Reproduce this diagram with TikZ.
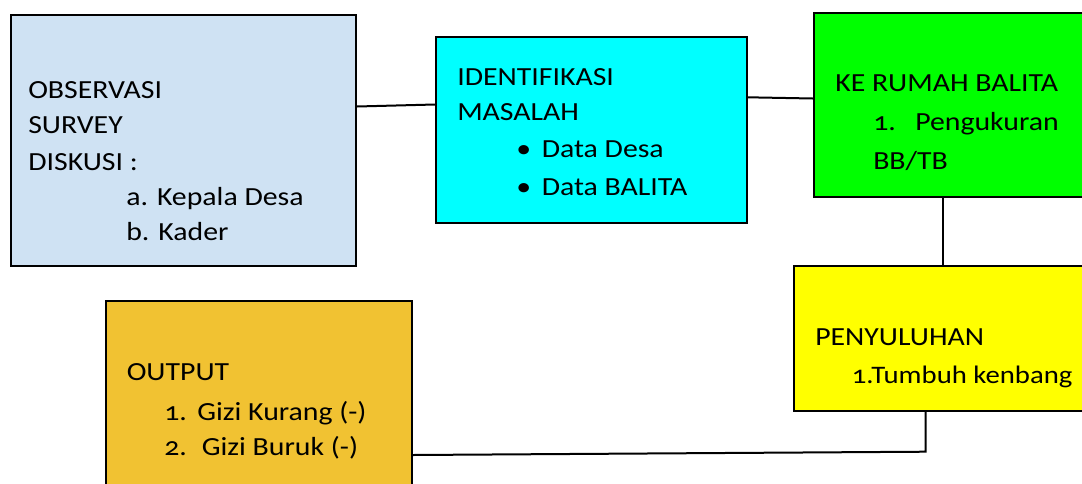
\documentclass[tikz,border=0pt]{standalone}
\usepackage{fontspec}
\setmainfont{Carlito}[FakeStretch=1.14,Numbers=OldStyle]
\usetikzlibrary{calc}
\definecolor{lblue}{RGB}{207,226,243}
\definecolor{cyanbox}{RGB}{0,255,255}
\definecolor{greenbox}{RGB}{0,255,0}
\definecolor{yellowbox}{RGB}{255,255,0}
\definecolor{goldbox}{RGB}{241,194,50}
\begin{document}
\begin{tikzpicture}[x=0.75pt,y=-0.75pt,
  box/.style={draw=black, line width=1.5pt, rectangle, inner sep=0pt, anchor=north west},
  txt/.style={anchor=base west, inner sep=0pt, font=\fontsize{19.6}{27}\selectfont},
  link/.style={draw=black, line width=1.5pt}]
\useasboundingbox (0,0) rectangle (1082,483);
\clip (0,0) rectangle (1082,483);
% boxes
\node[box, fill=lblue, minimum width=258.75pt, minimum height=188.25pt] (b1) at (10,14) {};
\node[box, fill=cyanbox, minimum width=233.25pt, minimum height=139.5pt] (b2) at (435,36) {};
\node[box, fill=greenbox, minimum width=225pt, minimum height=138pt] (b3) at (813,12) {};
\node[box, fill=yellowbox, minimum width=240pt, minimum height=108.75pt] (b4) at (793,265) {};
\node[box, fill=goldbox, minimum width=229.5pt, minimum height=150pt] (b5) at (105,300) {};
% texts box 1
\node[txt] (t11) at (28,98) {OBSERVASI};
\node[txt] (t12) at (28,133.5) {SURVEY};
\node[txt] (t13) at (28,170) {DISKUSI :};
\node[txt] (t14) at (126,205) {a. Kepala Desa};
\node[txt] (t15) at (126,240) {b. Kader};
% texts box 2
\node[txt] (t21) at (457,85) {IDENTIFIKASI};
\node[txt] (t22) at (457,120) {MASALAH};
\node[txt] (t23b) at (516,157) {•};
\node[txt] (t23) at (541.5,157) {Data Desa};
\node[txt] (t24b) at (516,195) {•};
\node[txt] (t24) at (541.5,195) {Data BALITA};
% texts box 3
\node[txt] (t31) at (835,91.5) {KE RUMAH BALITA};
\node[txt] (t32n) at (873,130) {1.};
\node[txt] (t32) at (915,130) {Pengukuran};
\node[txt] (t33) at (873,169) {BB/TB};
% texts box 4
\node[txt] (t41) at (815,345) {PENYULUHAN};
\node[txt, font=\fontsize{18.9}{27}\selectfont] (t42) at (851.5,383) {1.Tumbuh kenbang};
% texts box 5
\node[txt] (t51) at (126.5,380.5) {OUTPUT};
\node[txt] (t52n) at (164,420) {1.};
\node[txt] (t52) at (197,420) {Gizi Kurang (-)};
\node[txt] (t53n) at (164,455) {2.};
\node[txt] (t53) at (201.5,455) {Gizi Buruk (-)};
% connectors
\draw[link] ($(b1.north east)+(0,92.5)$) -- ($(b2.north west)+(0,68.5)$);
\draw[link] ($(b2.north east)+(0,61.3)$) -- ($(b3.north west)+(0,86.5)$);
\draw[link] ($(b3.south west)+(130.3,0)$) -- ($(b4.north west)+(150.3,0)$);
\coordinate (k4) at (925.7,451.7);
\draw[link] ($(b4.south west)+(132.7,0)$) -- (k4) -- ($(b5.north east)+(0,155)$);
\end{tikzpicture}
\end{document}
